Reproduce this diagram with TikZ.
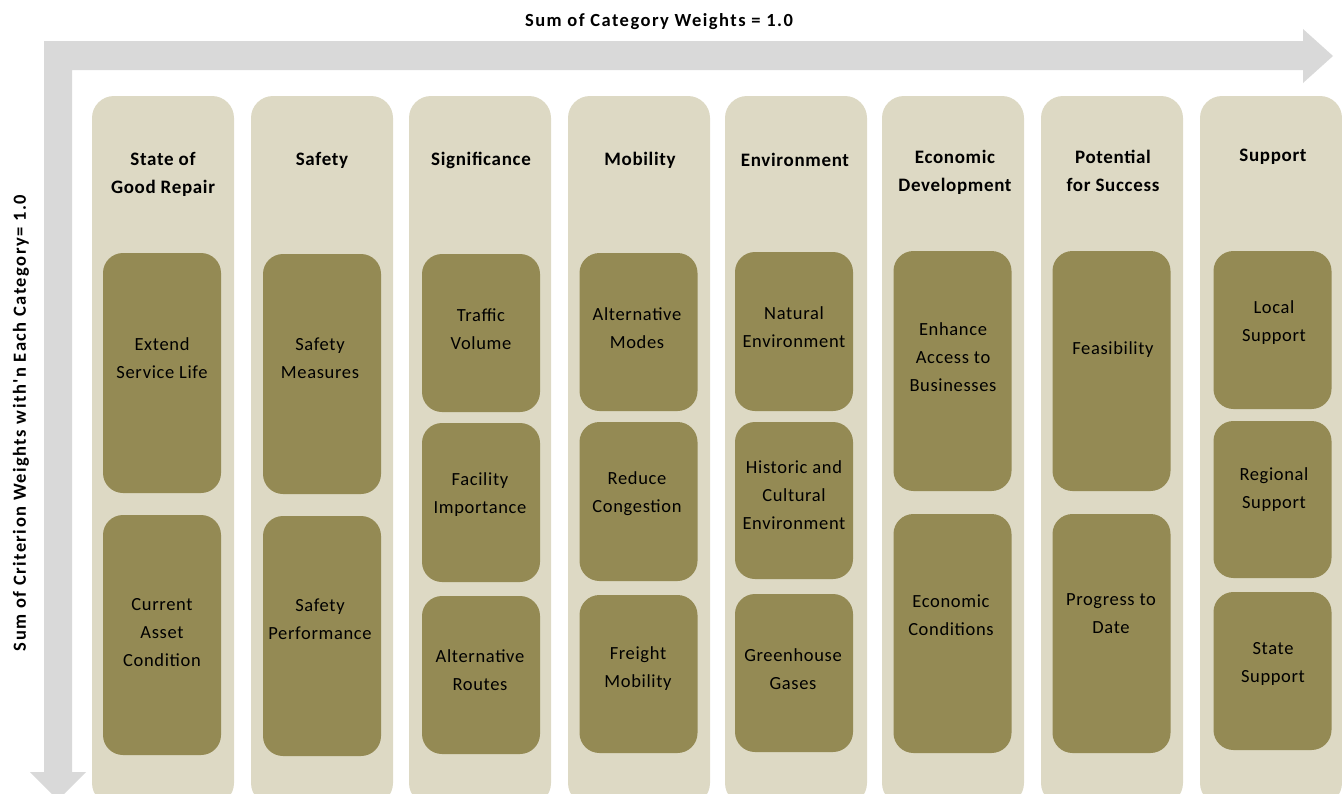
\documentclass[tikz,border=0pt]{standalone}
\usepackage{fontspec}
\setmainfont{Carlito}[LetterSpace=3.5]
\newfontfamily\titlefont{Carlito}[LetterSpace=8]
\begin{document}
\begin{tikzpicture}[x=1pt,y=-1pt,
  colbg/.style={fill=colbgc, draw=none, rounded corners=22pt},
  inbox/.style={rectangle, fill=inboxc, draw=none, rounded corners=20pt, minimum width=118pt, inner sep=0pt},
  hdr/.style={align=center, font=\fontsize{19}{28.5}\selectfont\bfseries, inner sep=0pt},
  itxt/.style={align=center, font=\fontsize{18.5}{28}\selectfont, inner sep=0pt, text=black},
  ttl/.style={font=\titlefont\fontsize{18.5}{22}\selectfont\bfseries, inner sep=0pt}
]
\definecolor{colbgc}{HTML}{DDD9C4}
\definecolor{inboxc}{HTML}{948A54}
\definecolor{arrowc}{HTML}{D9D9D9}
\useasboundingbox (0,0) rectangle (1342,793);
\clip (0,0) rectangle (1342,793);

% L-shaped arrow
\fill[arrowc] (44,41) -- (1303,41) -- (1303,29) -- (1333,56) -- (1303,83) -- (1303,70)
  -- (72,70) -- (72,772) -- (86,772) -- (58,800) -- (30,772) -- (44,772) -- cycle;

\node[ttl] (toptitle) at (659,22) {Sum of Category Weights = 1.0};
\node[ttl, rotate=90] (sidetitle) at (21,423) {Sum of Criterion Weights with'n Each Category= 1.0};

% columns
\fill[colbg] (92,96) rectangle (234,805);
\fill[colbg] (251,96) rectangle (393,805);
\fill[colbg] (409,96) rectangle (551,805);
\fill[colbg] (568,96) rectangle (710,805);
\fill[colbg] (725,96) rectangle (867,805);
\fill[colbg] (882,96) rectangle (1024,805);
\fill[colbg] (1041,96) rectangle (1183,805);
\fill[colbg] (1200,96) rectangle (1342,805);

% headers
\node[hdr] (h1) at (163,174.5) {State of\\Good Repair};
\node[hdr] (h2) at (322,160) {Safety};
\node[hdr] (h3) at (481,160) {Significance};
\node[hdr] (h4) at (640,160) {Mobility};
\node[hdr] (h5) at (795,160) {Environment};
\node[hdr] (h6) at (955,172.5) {Economic\\Development};
\node[hdr] (h7) at (1113,171) {Potential\\for Success};
\node[hdr] (h8) at (1273,157) {Support};

% column 1
\node[inbox, minimum height=240pt] (b11) at (162,373) {};
\node[inbox, minimum height=240pt] (b12) at (162,635) {};
\node[itxt] (t11) at (162,358) {Extend\\Service Life};
\node[itxt] (t12) at (162,633) {Current\\Asset\\Condition};
% column 2
\node[inbox, minimum height=240pt] (b21) at (322,374) {};
\node[inbox, minimum height=240pt] (b22) at (322,636) {};
\node[itxt] (t21) at (320,358) {Safety\\Measures};
\node[itxt] (t22) at (320,619) {Safety\\Performance};
% column 3
\node[inbox, minimum height=158pt] (b31) at (481,333) {};
\node[inbox, minimum height=159pt] (b32) at (481,502.5) {};
\node[inbox, minimum height=158pt] (b33) at (481,675) {};
\node[itxt] (t31) at (481,329) {Traffic\\Volume};
\node[itxt] (t32) at (480,495) {Facility\\Importance};
\node[itxt] (t33) at (480,670) {Alternative\\Routes};
% column 4
\node[inbox, minimum height=158pt] (b41) at (638.5,332) {};
\node[inbox, minimum height=159pt] (b42) at (638.5,501.5) {};
\node[inbox, minimum height=158pt] (b43) at (638.5,674) {};
\node[itxt] (t41) at (637,328) {Alternative\\Modes};
\node[itxt] (t42) at (637,494) {Reduce\\Congestion};
\node[itxt] (t43) at (638,669) {Freight\\Mobility};
% column 5
\node[inbox, minimum height=159pt] (b51) at (794,331.5) {};
\node[inbox, minimum height=157pt] (b52) at (794,500.5) {};
\node[inbox, minimum height=158pt] (b53) at (794,673) {};
\node[itxt] (t51) at (794,327) {Natural\\Environment};
\node[itxt] (t52) at (794,495) {Historic and\\Cultural\\Environment};
\node[itxt] (t53) at (793,669) {Greenhouse\\Gases};
% column 6
\node[inbox, minimum height=240pt] (b61) at (952.5,371) {};
\node[inbox, minimum height=239pt] (b62) at (952.5,633.5) {};
\node[itxt] (t61) at (953,357) {Enhance\\Access to\\Businesses};
\node[itxt] (t62) at (951,615) {Economic\\Conditions};
% column 7
\node[inbox, minimum height=240pt] (b71) at (1111.5,371) {};
\node[inbox, minimum height=239pt] (b72) at (1111.5,633.5) {};
\node[itxt] (t71) at (1113,350) {Feasibility};
\node[itxt] (t72) at (1111,614) {Progress to\\Date};
% column 8
\node[inbox, minimum height=158pt] (b81) at (1272.5,330) {};
\node[inbox, minimum height=157pt] (b82) at (1272.5,499.5) {};
\node[inbox, minimum height=158pt] (b83) at (1272.5,671) {};
\node[itxt] (t81) at (1274,323) {Local\\Support};
\node[itxt] (t82) at (1274,490) {Regional\\Support};
\node[itxt] (t83) at (1273,664) {State\\Support};
\end{tikzpicture}
\end{document}
